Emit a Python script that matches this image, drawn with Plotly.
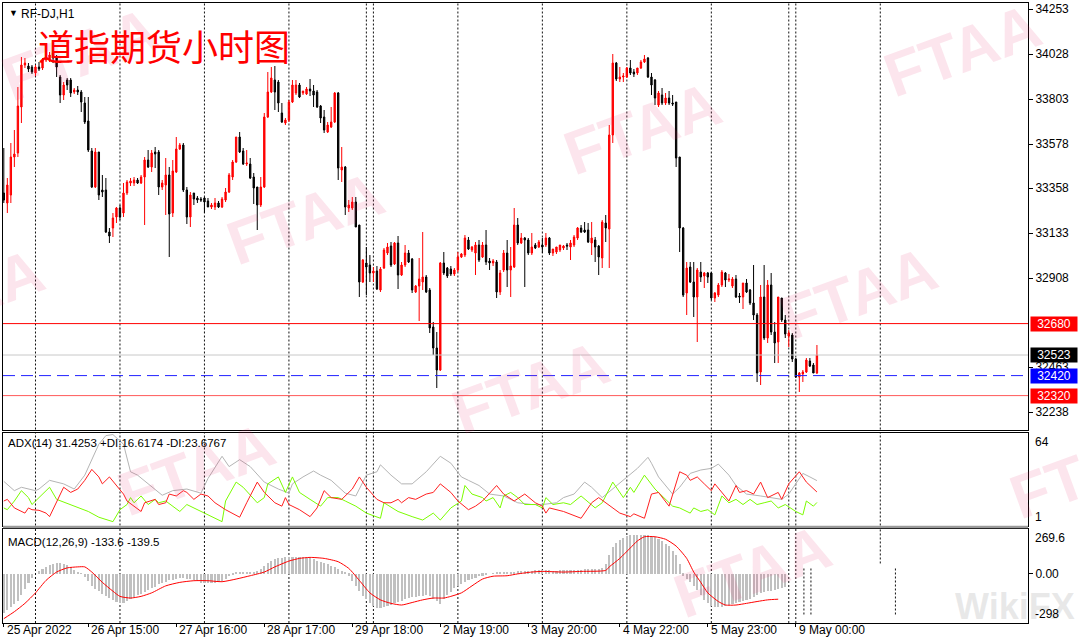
import plotly.graph_objects as go

# ---------------- data (H1 bars; index 0 = 26 Apr 2022 00:00, weekend gaps removed) ----------------
bar_start = -9
open_ = [33333,33283,33323,33513,33533,33763,33973,33968,33963,33933,
 33963,33958,33998,33998,34033,34013,33913,33823,33898,33898,
 33838,33848,33838,33783,33693,33543,33363,33538,33348,33348,
 33138,33158,33213,33258,33233,33333,33383,33383,33398,33383,
 33413,33498,33463,33538,33538,33363,33373,33423,33233,33438,
 33553,33573,33348,33213,33333,33308,33303,33308,33293,33263,
 33263,33283,33263,33298,33338,33413,33488,33613,33543,33478,
 33478,33413,33363,33273,33363,33713,33838,33898,33888,33733,
 33683,33698,33788,33833,33873,33833,33828,33853,33843,33838,
 33768,33713,33638,33663,33688,33833,33448,33463,33258,33258,
 33288,33173,32888,32983,32973,32933,32943,32848,32958,33033,
 33068,32978,33083,32923,32973,33033,33003,32838,32868,32888,
 32913,32848,32663,32558,32448,32983,32958,32953,32928,32948,
 33013,33023,33098,33048,33033,33073,33013,33073,32993,32983,
 32988,32838,32948,33033,32948,32963,33173,33083,33108,33098,
 33033,33073,33063,33073,33073,33108,33033,33038,33048,33058,
 33073,33063,33073,33108,33158,33148,33148,33083,33098,33068,
 33008,33183,33153,33623,33983,33903,33913,33913,33958,33938,
 33933,33958,33988,34008,33913,33898,33773,33823,33783,33808,
 33783,33788,33513,33158,32833,32963,32888,32813,32938,32918,
 32933,32933,32808,32823,32873,32933,32898,32868,32903,32818,
 32813,32883,32848,32783,32723,32438,32813,32608,32873,32638,
 32588,32808,32698,32618,32623,32503,32413,32428,32438,32493,
 32473,32433]
high = [33558,33408,33583,33648,33863,34013,34008,33983,33973,33973,
 33988,34008,34023,34038,34048,34023,33923,33888,33908,33908,
 33858,33868,33848,33813,33813,33558,33558,33538,33423,33408,
 33158,33233,33263,33273,33383,33398,33408,33413,33408,33423,
 33513,33548,33548,33563,33548,33398,33508,33463,33498,33613,
 33583,33583,33363,33338,33333,33318,33313,33313,33308,33283,
 33308,33293,33313,33358,33433,33498,33613,33638,33558,33548,
 33508,33433,33363,33413,33733,33938,33963,33968,33898,33783,
 33708,33798,33898,33898,33883,33843,33863,33903,33873,33848,
 33773,33748,33688,33763,33838,33838,33563,33468,33298,33313,
 33313,33173,33003,33063,33023,32963,32968,32963,33058,33083,
 33088,33088,33118,32988,33073,33048,33008,32873,33008,33138,
 32923,32858,32688,32638,32988,33038,32963,32968,32958,33038,
 33033,33123,33113,33068,33088,33098,33088,33148,33008,33003,
 32998,32948,33048,33098,33063,33258,33208,33133,33113,33108,
 33133,33083,33098,33108,33133,33113,33048,33058,33068,33073,
 33083,33098,33123,33163,33173,33188,33183,33188,33113,33073,
 33198,33223,33673,34028,33988,33963,33933,33963,33998,33953,
 33958,33998,34023,34013,33933,33903,33843,33858,33833,33843,
 33823,33788,33513,33163,32988,32988,32988,32958,32988,32938,
 32938,32938,32838,32883,32948,32938,32928,32913,32923,32833,
 32883,32903,32853,32973,32733,32873,32973,32898,32933,32688,
 32813,32808,32723,32648,32633,32508,32438,32448,32508,32508,
 32483,32573]
low = [33283,33233,33283,33463,33513,33683,33958,33938,33928,33918,
 33943,33948,33988,33988,33983,33913,33783,33798,33848,33813,
 33828,33823,33738,33678,33538,33358,33358,33298,33313,33133,
 33083,33113,33183,33198,33213,33323,33368,33368,33378,33378,
 33173,33458,33438,33458,33323,33348,33223,33013,33213,33433,
 33548,33338,33178,33163,33273,33283,33288,33233,33263,33253,
 33248,33258,33258,33288,33333,33398,33483,33533,33473,33468,
 33403,33278,33148,33263,33358,33708,33833,33748,33738,33683,
 33673,33688,33783,33823,33808,33823,33823,33818,33763,33758,
 33683,33633,33633,33658,33683,33398,33388,33223,33238,33248,
 33163,32813,32883,32823,32888,32888,32848,32838,32953,33023,
 32963,32973,32853,32918,32963,32983,32833,32833,32693,32848,
 32833,32633,32523,32358,32443,32923,32908,32918,32918,32938,
 33008,33013,33048,33038,32923,32988,33008,32973,32948,32968,
 32808,32823,32938,32863,32813,32958,33073,33078,32863,33023,
 33023,33053,33058,33033,33063,33023,33018,33028,33038,33048,
 33048,32998,33063,33098,33133,33133,33083,33023,32988,32923,
 32958,33088,32958,33583,33893,33888,33888,33908,33923,33913,
 33923,33953,33983,33908,33823,33773,33763,33773,33773,33773,
 33768,33463,33038,32813,32723,32883,32713,32588,32888,32858,
 32883,32798,32788,32813,32863,32863,32888,32858,32808,32783,
 32753,32833,32773,32698,32388,32373,32598,32583,32623,32483,
 32483,32688,32608,32563,32488,32408,32338,32388,32433,32463,
 32433,32428]
close = [33298,33373,33513,33528,33768,33973,33983,33953,33938,33963,
 33953,33998,34008,34023,34008,33963,33823,33873,33873,33833,
 33848,33838,33788,33688,33548,33363,33538,33323,33338,33138,
 33118,33208,33258,33213,33333,33388,33393,33398,33383,33413,
 33498,33463,33533,33528,33363,33383,33423,33228,33443,33553,
 33573,33348,33213,33323,33303,33298,33298,33288,33263,33273,
 33283,33263,33303,33338,33423,33488,33613,33538,33478,33483,
 33408,33358,33273,33363,33713,33838,33908,33838,33783,33688,
 33698,33788,33873,33873,33813,33843,33853,33843,33823,33763,
 33708,33648,33673,33688,33833,33458,33463,33263,33273,33288,
 33163,32888,32998,32963,32933,32943,32853,32953,33048,33063,
 32973,33083,32923,32973,33033,32988,32848,32868,32903,32913,
 32838,32658,32558,32448,32983,32933,32918,32928,32948,33013,
 33028,33108,33053,33063,33073,32998,33073,32988,32983,32993,
 32838,32933,33033,32948,32968,33173,33083,33108,33098,33033,
 33063,33058,33088,33063,33108,33033,33053,33063,33073,33068,
 33068,33083,33113,33158,33138,33138,33088,33108,33063,33013,
 33188,33158,33623,33983,33903,33913,33918,33958,33933,33928,
 33958,33988,34003,33913,33873,33808,33833,33783,33808,33783,
 33778,33508,33158,32823,32958,32888,32813,32948,32913,32933,
 32913,32808,32833,32873,32938,32898,32903,32903,32813,32813,
 32883,32838,32783,32723,32433,32813,32608,32873,32638,32583,
 32813,32698,32628,32633,32503,32413,32433,32438,32498,32468,
 32433,32523]
bar_idx = list(range(bar_start, bar_start + len(close)))

# ADX(14) lines, read at their vertices (bar index, value)
adx_x = [-9,-6,-4,0,1,4,8,11,14,18,20,22,25,27,29,32,36,39,43,47,49,53,55,58,61,65,69,72,73,76,79,81,84,88,91,94,97,98,101,104,107,111,115,118,121,123,126,129,133,137,141,144,148,150,153,156,158,161,164,168,170,171,174,175,177,181,183,186,189,192,194,197,199,202,206,212,214,216,218,220,222]
adx_v = [30.9,24.6,26.9,24.6,25.7,31.6,29.2,25.7,35.1,56.1,61.9,62.6,56.1,37.4,35.1,29.2,21.5,24.6,25.7,22.9,32.8,47.9,40.9,45.6,40.9,30.4,25.7,22.9,29.2,33.9,37.9,35.1,31.6,22.9,21.0,35.1,37.4,42.1,35.1,29.2,29.2,37.4,47.9,43.2,33.9,31.6,28.1,22.3,21.0,16.4,15.2,15.2,16.4,19.9,22.3,30.4,26.9,19.9,25.7,33.9,37.4,39.7,47.2,43.2,33.9,22.3,26.9,36.3,38.6,39.7,42.6,35.1,28.1,22.3,21.0,18.7,22.3,29.2,36.3,33.9,31.4]
mdi_x = [-9,-8,-6,-3,-2,-1,1,3,4,6,8,10,12,14,16,18,19,21,23,25,26,28,30,31,34,35,37,38,40,42,43,45,47,49,51,54,58,60,63,65,68,70,71,72,75,78,80,82,84,87,90,92,94,97,99,101,103,104,106,108,111,113,115,118,120,123,125,127,131,133,136,139,142,144,145,146,150,155,158,160,162,164,166,169,170,173,175,177,180,183,185,186,188,190,192,193,196,197,199,200,202,204,206,208,211,212,214,217,219,221,222]
mdi_v = [17.6,18.7,12.9,9.4,12.9,11.7,11.3,9.4,7.0,16.4,26.9,23.4,25.7,31.6,39.0,33.9,29.2,33.9,28.1,22.3,17.6,14.1,10.5,16.4,18.7,15.2,16.4,22.3,21.0,24.6,23.4,18.7,22.3,21.0,16.4,11.7,6.6,16.4,30.4,23.4,16.4,14.1,19.9,15.2,11.7,7.0,12.9,24.6,19.9,18.7,25.7,33.9,26.9,18.7,16.4,16.4,18.7,16.4,19.9,18.7,22.3,23.4,29.2,23.4,17.6,11.7,14.1,17.6,28.1,22.3,17.6,22.3,16.4,14.1,9.4,12.9,10.5,5.9,16.4,19.9,16.4,12.9,9.4,7.0,8.9,5.9,22.3,23.4,14.1,37.4,35.1,31.6,33.9,29.2,24.6,29.2,19.9,17.6,28.1,23.4,24.6,22.3,30.4,19.9,23.4,18.7,29.2,37.4,30.4,25.7,23.7]
pdi_x = [-9,-8,-6,-4,-2,-1,1,4,6,10,15,18,22,24,26,27,28,30,32,34,35,37,39,41,43,49,53,54,57,59,63,65,66,69,71,73,75,78,81,83,86,88,91,94,98,99,103,107,110,113,115,118,121,122,124,127,128,130,132,133,135,137,139,142,144,145,147,150,152,155,159,161,164,167,169,170,173,176,178,181,183,186,187,189,191,193,195,197,199,201,203,205,207,209,211,213,216,218,219,221,222]
pdi_v = [12.9,11.7,17.6,24.6,19.9,15.2,19.9,26.9,18.7,15.2,10.5,6.6,3.6,11.7,15.2,19.9,16.4,21.0,15.2,18.7,16.4,17.6,14.1,10.5,15.2,8.2,3.6,17.6,30.4,26.9,16.4,19.9,29.2,33.9,23.4,33.9,23.4,18.7,14.1,19.9,19.9,17.6,14.1,9.4,5.9,16.4,10.5,7.0,4.7,9.4,4.7,12.9,17.6,28.1,22.3,19.9,17.6,19.9,12.9,21.0,23.4,19.9,15.2,15.2,12.9,19.9,15.2,16.4,15.2,21.0,12.9,16.4,30.4,19.9,26.9,23.4,35.1,25.7,21.0,14.1,12.9,9.4,12.9,10.5,11.7,8.2,21.0,16.4,18.7,15.2,18.7,15.2,16.4,17.6,12.9,15.2,10.5,8.2,17.6,14.1,16.6]

# MACD(12,26,9): histogram per bar (visible part) and signal line vertices
macd_hist = [-232,-215,-197,-178,-160,-125,-90,-54,-25,0,
 15,32,42,55,62,66,64,60,52,40,
 26,14,4,-18,-45,-70,-90,-104,-120,-135,
 -146,-158,-168,-175,-172,-160,-150,-140,-127,-118,
 -108,-96,-86,-76,-63,-55,-48,-38,-34,-30,
 -26,-24,-28,-33,-36,-44,-52,-54,-55,-54,
 -54,-50,-44,-30,-15,-2,8,14,13,10,
 10,12,18,30,50,66,80,90,94,98,
 100,101,101,100,100,99,97,94,88,80,
 72,65,58,50,42,30,18,8,-10,-40,
 -72,-105,-130,-150,-172,-195,-203,-205,-196,-191,
 -184,-176,-170,-162,-150,-145,-141,-138,-134,-130,
 -128,-134,-150,-165,-180,-150,-128,-108,-86,-72,
 -58,-46,-34,-28,-22,-15,-10,-5,0,3,
 6,8,10,11,12,14,15,16,18,19,
 20,22,24,25,22,21,20,20,21,22,
 23,24,24,25,26,27,28,29,30,32,
 38,60,112,160,185,202,215,228,232,235,
 236,236,236,232,228,220,208,196,182,165,
 140,112,60,-10,-28,-50,-75,-95,-125,-155,
 -175,-190,-196,-201,-199,-194,-188,-182,-176,-168,
 -163,-158,-148,-138,-128,-117,-110,-104,-100,-97,
 -90,-82,-76]
macd_idx = list(range(bar_start, bar_start + len(macd_hist)))
sig_x = [-9,-6,-3,0,3,6,9,12,14,16,19,22,24,27,30,33,37,41,45,49,53,57,61,65,68,72,75,78,82,86,89,92,95,98,101,104,107,110,113,116,118,121,124,127,130,134,137,141,144,150,155,162,163,166,169,171,173,176,179,182,185,187,189,191,194,196,199,202,205,208,211]
sig_v = [-272,-230,-180,-117,-42,8,33,39,39,8,-54,-107,-138,-148,-138,-117,-75,-54,-44,-44,-50,-34,-14,8,39,74,90,96,90,70,30,-42,-117,-159,-180,-190,-175,-159,-148,-148,-138,-117,-75,-34,-17,-14,-3,8,12,8,12,18,39,90,153,195,220,220,205,164,90,8,-54,-117,-169,-190,-190,-180,-169,-159,-155]

# day separators (bar index of each day start) and time-axis labels
sep_idx = [0, 24, 48, 72, 94, 96, 120, 144, 168, 192, 214, 216, 240]
time_idx = [-9, 15, 40, 65, 90, 115, 140, 166, 191, 216]
time_txt = ["25 Apr 2022", "26 Apr 15:00", "27 Apr 16:00", "28 Apr 17:00", "29 Apr 18:00",
            "2 May 19:00", "3 May 20:00", "4 May 22:00", "5 May 23:00", "9 May 00:00"]
price_ticks = [34253, 34028, 33803, 33578, 33358, 33133, 32908, 32463, 32238]
levels = [32680, 32523, 32420, 32320]
level_line = ["#ff0000", "#c8c8c8", "#2020ff", "#ff5a5a"]
level_box = ["#ff0000", "#000000", "#0000ff", "#ff0000"]
level_dash = ["solid", "solid", "12px,6px", "solid"]
adx_max, adx_min = 64, 1
macd_max, macd_min = 269.6, -298

# ---------------- figure ----------------
FONT = "Liberation Sans"
fig = go.Figure()
fig.add_trace(go.Candlestick(
    x=bar_idx, open=open_, high=high, low=low, close=close,
    increasing=dict(line=dict(color="#ff0000", width=1), fillcolor="#ff0000"),
    decreasing=dict(line=dict(color="#000000", width=1), fillcolor="#000000"),
    whiskerwidth=0, showlegend=False, hoverinfo="skip", xaxis="x", yaxis="y"))
fig.add_trace(go.Scatter(x=adx_x, y=adx_v, mode="lines", line=dict(color="#b4b4b4", width=1),
                         xaxis="x2", yaxis="y2", showlegend=False))
fig.add_trace(go.Scatter(x=pdi_x, y=pdi_v, mode="lines", line=dict(color="#7cfc00", width=1),
                         xaxis="x2", yaxis="y2", showlegend=False))
fig.add_trace(go.Scatter(x=mdi_x, y=mdi_v, mode="lines", line=dict(color="#ff2020", width=1),
                         xaxis="x2", yaxis="y2", showlegend=False))
fig.add_trace(go.Bar(x=macd_idx, y=macd_hist, width=0.6, marker=dict(color="#c0c0c0", line=dict(width=0)),
                     xaxis="x3", yaxis="y3", showlegend=False))
fig.add_trace(go.Scatter(x=sig_x, y=sig_v, mode="lines", line=dict(color="#ff0000", width=1, shape="spline", smoothing=0.6),
                         xaxis="x3", yaxis="y3", showlegend=False))

X0 = bar_start - 0.23
X1 = X0 + 1025 / 3.52
ax_common = dict(range=[X0, X1], showgrid=False, zeroline=False, showline=True, mirror=True,
                 linecolor="#000000", linewidth=1, fixedrange=True)
ty = lambda top, bot: [(623 - bot) / 620, (623 - top) / 620]

fig.update_layout(
    width=1080, height=638, margin=dict(l=3, r=52, t=3, b=15, autoexpand=False),
    paper_bgcolor="white", plot_bgcolor="white", boxgap=0.45, bargap=0,
    font=dict(family=FONT, size=12, color="#000000"),
    xaxis=dict(**ax_common, anchor="y", showticklabels=False, ticks="", rangeslider=dict(visible=False)),
    xaxis2=dict(**ax_common, anchor="y2", matches="x", showticklabels=False, ticks=""),
    xaxis3=dict(**ax_common, anchor="y3", matches="x", showticklabels=False, ticks="outside",
                tickvals=time_idx, ticklen=3, tickcolor="#000000"),
    yaxis=dict(domain=ty(3, 429.5), range=[32150.5, 34283], side="right", tickvals=price_ticks,
               ticktext=[str(p) for p in price_ticks],
               ticks="outside", ticklen=4, tickcolor="#000000", showgrid=False, zeroline=False,
               showline=True, mirror=True, linecolor="#000000", tickfont=dict(size=12, family=FONT)),
    yaxis2=dict(domain=ty(432.5, 525.5), range=[adx_min, adx_max], side="right", showticklabels=False,
                ticks="", showgrid=False, zeroline=False, showline=True, mirror=True, linecolor="#000000"),
    yaxis3=dict(domain=ty(528.5, 623), range=[macd_min, macd_max], side="right", tickvals=[0],
                ticktext=["0.00"], ticks="outside", ticklen=4, tickcolor="#000000", showgrid=False,
                zeroline=False, showline=True, mirror=True, linecolor="#000000", tickfont=dict(size=12, family=FONT)),
)

shapes = []
sep_line = dict(color="#111111", width=1, dash="2px,2px")
for s in sep_idx:
    shapes.append(dict(type="line", xref="x", yref="y domain", x0=s, x1=s, y0=0, y1=1, line=sep_line, layer="below"))
    shapes.append(dict(type="line", xref="x2", yref="y2 domain", x0=s, x1=s, y0=0, y1=1, line=sep_line, layer="below"))
    if s < 240:
        shapes.append(dict(type="line", xref="x3", yref="y3 domain", x0=s, x1=s, y0=0, y1=1, line=sep_line, layer="below"))
    else:
        shapes.append(dict(type="line", xref="x3", yref="y3 domain", x0=s, x1=s, y0=0.63, y1=1, line=sep_line, layer="below"))
    if s >= 214:  # shifted fragments of the pasted patch in the MACD window
        shapes.append(dict(type="line", xref="x3", yref="y3 domain", x0=s + 4.3, x1=s + 4.3, y0=0.09, y1=0.59,
                           line=sep_line, layer="below"))
# grey window separator between ADX and MACD
shapes.append(dict(type="rect", xref="paper", yref="paper", x0=0, x1=1,
                   y0=(623 - 528.3) / 620, y1=(623 - 525.7) / 620, line=dict(width=0), fillcolor="#9a9a9a"))
for lv, lc, ld in zip(levels, level_line, level_dash):
    shapes.append(dict(type="line", xref="paper", yref="y", x0=0, x1=1, y0=lv, y1=lv,
                       line=dict(color=lc, width=1, dash=ld)))
fig.update_layout(shapes=shapes)

ann = []
# watermarks (centres in figure pixels)
wm = [(80, 55), (305, 218), (642, 128), (962, 50), (-35, 295), (196, 470), (530, 387), (858, 293),
      (752, 571), (1088, 472)]
for px, py in wm:
    ann.append(dict(text="<b>FTAA</b>", xref="paper", yref="paper", x=(px - 3) / 1025, y=(623 - py) / 620,
                    xanchor="center", yanchor="middle", showarrow=False, textangle=-20,
                    font=dict(size=62, color="rgba(232,40,110,0.12)", family=FONT)))
ann.append(dict(text="<b>WikiFX</b>", xref="paper", yref="paper", x=(1015 - 3) / 1025, y=(623 - 606) / 620,
                xanchor="center", yanchor="middle",
                showarrow=False, font=dict(size=36, color="rgba(190,190,190,0.35)", family=FONT)))
# headers
ann.append(dict(text="▼", xref="paper", yref="paper", x=(7 - 3) / 1025, y=1, xanchor="left", yanchor="top",
                yshift=-3, showarrow=False, font=dict(size=9, color="#000000")))
ann.append(dict(text="RF-DJ,H1", xref="paper", yref="paper", x=(19 - 3) / 1025, y=1, xanchor="left",
                yanchor="top", yshift=-2, showarrow=False, font=dict(size=12, family=FONT)))
ann.append(dict(text="道指期货小时图", xref="paper", yref="paper", x=(36 - 3) / 1025, y=(623 - 45) / 620,
                xanchor="left", yanchor="middle", showarrow=False,
                font=dict(size=36, color="#ff0000", family="Noto Sans CJK SC")))
ann.append(dict(text="ADX(14) 31.4253 +DI:16.6174 -DI:23.6767", xref="paper", yref="y2 domain", x=0, y=1,
                xanchor="left", yanchor="top", xshift=3, yshift=-2, showarrow=False, font=dict(size=11.5, family=FONT)))
ann.append(dict(text="MACD(12,26,9) -133.6 -139.5", xref="paper", yref="y3 domain", x=0, y=1,
                xanchor="left", yanchor="top", xshift=3, yshift=-5, showarrow=False, font=dict(size=11.5, family=FONT)))
# indicator window scale labels
for txt, yr, yv, anc in [(str(adx_max), "y2", adx_max, "top"), (str(adx_min), "y2", adx_min, "bottom"),
                         (f"{macd_max}", "y3", macd_max, "top"), (f"{macd_min:.0f}", "y3", macd_min, "bottom")]:
    ann.append(dict(text=txt, xref="paper", yref=yr, x=1, y=yv, xanchor="left", yanchor=anc, xshift=5,
                    showarrow=False, font=dict(size=12, family=FONT)))
# price level boxes
for lv, bc in zip(levels, level_box):
    ann.append(dict(text=str(lv), xref="paper", yref="y", x=1, y=lv, xanchor="left", yanchor="middle", xshift=2,
                    showarrow=False, bgcolor=bc, width=44, height=12, borderpad=1,
                    font=dict(size=12, color="#ffffff", family=FONT)))
# time labels
for ti, tt in zip(time_idx, time_txt):
    ann.append(dict(text=tt, xref="x3", yref="paper", x=ti, y=0, xanchor="left", yanchor="top", yshift=2,
                    xshift=1, showarrow=False, font=dict(size=12, family=FONT)))
fig.update_layout(annotations=ann)

fig.write_html("out.html", config={"displayModeBar": False},
               post_script="document.body.style.margin='0';document.body.style.overflow='hidden';")
